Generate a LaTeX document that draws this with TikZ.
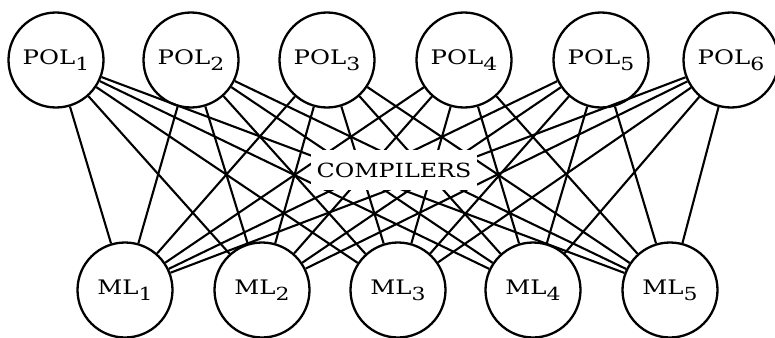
\documentclass[tikz,border=0pt]{standalone}
\usepackage{fontspec}
\setmainfont{DejaVu Serif}[FakeStretch=1.22]
\usepackage{tikz}
\usetikzlibrary{calc}

\newcommand{\lsub}[1]{\raisebox{-0.6ex}{\fontsize{18}{18}\selectfont #1}}

\begin{document}
\begin{tikzpicture}[x=1pt, y=-1pt,
		lang/.style={circle, draw, line width=2.3pt, minimum size=95pt, inner sep=0pt, font=\fontsize{20}{22}\selectfont},
		link/.style={line width=2.1pt},
		tag/.style={fill=white, inner sep=0pt, minimum width=166pt, minimum height=40pt, font=\fontsize{19.5}{22}\selectfont}]
					\def\yPOL{60};
					\def\yML{290};
					
					\useasboundingbox (0,0) rectangle (775,337);
					
					% upper row
					\foreach \i/\x in {1/56, 2/191, 3/327, 4/464, 5/601, 6/731}
						\node [lang] (pol\i) at (\x,\yPOL) {POL\lsub{\i}};
					
					% lower row
					\foreach \j/\x in {1/125, 2/262, 3/398, 4/533, 5/670}
						\node [lang] (ml\j) at (\x,\yML) {ML\lsub{\j}};
					
					\begin{scope}[link]
						\foreach \i in {1,...,6}
							\foreach \j in {1,...,5}
								\draw (pol\i) -- (ml\j);
					\end{scope}
					
					\node [tag] (comp) at (394,170) {COMPILERS};
				\end{tikzpicture}
\end{document}
